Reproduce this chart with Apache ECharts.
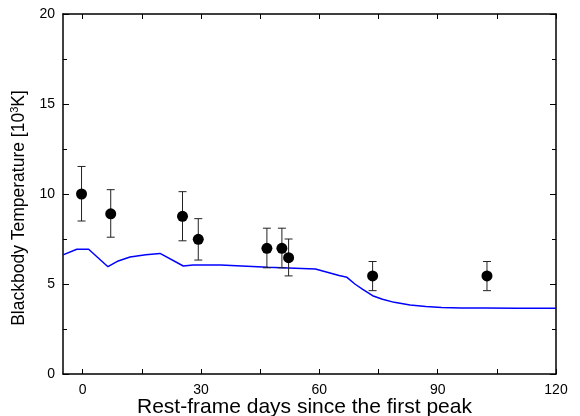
<!DOCTYPE html>
<html>
<head>
<meta charset="utf-8" />
<title>Blackbody temperature</title>
<script src="https://cdn.jsdelivr.net/npm/echarts@6/dist/echarts.min.js"></script>
<style>
  html, body { margin: 0; padding: 0; background: #fff; }
  #main { width: 580px; height: 416px; }
</style>
</head>
<body>
<div id="main"></div>
<script>
// observed points
var obsX = [-0.3, 7.1, 25.3, 29.3, 46.7, 50.5, 52.2, 73.5, 102.5];
var obsY = [10.0, 8.9, 8.76, 7.48, 6.98, 6.98, 6.46, 5.45, 5.45];
var obsLow = [8.5, 7.6, 7.4, 6.33, 5.9, 5.9, 5.45, 4.63, 4.63];
var obsHigh = [11.53, 10.24, 10.13, 8.63, 8.1, 8.1, 7.5, 6.25, 6.25];

// model curve
var modelX = [-5, -1.5, 1.5, 6.4, 9, 12, 16, 19.6, 25.5, 28, 35, 47, 59, 62, 65, 67, 69, 71, 73.5, 76, 79, 83, 87, 91, 96, 102, 110, 120];
var modelY = [6.62, 6.93, 6.93, 5.96, 6.28, 6.5, 6.63, 6.7, 6.0, 6.06, 6.06, 5.93, 5.83, 5.65, 5.47, 5.37, 5.0, 4.7, 4.35, 4.15, 3.98, 3.83, 3.75, 3.7, 3.67, 3.66, 3.65, 3.65];

var xTicks = [0, 15, 30, 45, 60, 75, 90, 105, 120];
var xLabels = [0, 30, 60, 90, 120];

var chart = echarts.init(document.getElementById('main'));

var pts = [], bars = [], line = [];
for (var i = 0; i < obsX.length; i++) {
  pts.push([obsX[i], obsY[i]]);
  bars.push([obsX[i], obsLow[i], obsHigh[i]]);
}
for (var j = 0; j < modelX.length; j++) line.push([modelX[j], modelY[j]]);

var font = 'Liberation Sans, Arial, sans-serif';
var axLine = { show: true, onZero: false, lineStyle: { color: '#000', width: 1.5 } };

function xAx(pos, labels) {
  return {
    type: 'value', position: pos, min: -5, max: 120,
    axisLine: axLine,
    axisTick: { show: true, inside: true, length: 5, customValues: xTicks, lineStyle: { color: '#000' } },
    axisLabel: labels ? { show: true, customValues: xLabels, color: '#000', fontSize: 14, fontFamily: font, margin: 9 } : { show: false },
    splitLine: { show: false },
    name: labels ? 'Rest-frame days since the first peak' : '',
    nameLocation: 'middle', nameGap: 23, nameMoveOverlap: false,
    nameTextStyle: { color: '#000', fontSize: 21, fontFamily: font, padding: [0, 10, 0, 0] }
  };
}
function yAx(pos, labels) {
  return {
    type: 'value', position: pos, min: 0, max: 20, interval: 5,
    axisLine: axLine,
    axisTick: { show: true, inside: true, length: 6, lineStyle: { color: '#000' } },
    minorTick: { show: true, splitNumber: 2, length: 4, lineStyle: { color: '#000' } },
    axisLabel: labels ? { show: true, color: '#000', fontSize: 14, fontFamily: font, margin: 8 } : { show: false },
    splitLine: { show: false },
    name: labels ? 'Blackbody Temperature [10{sup|3}K]' : '',
    nameLocation: 'middle', nameGap: 33,
    nameTextStyle: {
      color: '#000', fontSize: 17.5, fontFamily: font, padding: [0, 28, 0, 0],
      rich: { sup: { fontSize: 11, verticalAlign: 'top', padding: [0, 0, 9, 0], fontFamily: font, color: '#000' } }
    }
  };
}

chart.setOption({
  animation: false,
  grid: { left: 63, right: 24, top: 14, bottom: 42, containLabel: false, outerBoundsMode: 'none' },
  xAxis: [xAx('bottom', true), xAx('top', false)],
  yAxis: [yAx('left', true), yAx('right', false)],
  series: [
    {
      type: 'line', data: line, showSymbol: false, smooth: false,
      lineStyle: { color: '#0000ff', width: 1.5 }, z: 2
    },
    {
      type: 'custom', data: bars, z: 3,
      renderItem: function (params, api) {
        var x = api.value(0);
        var lo = api.coord([x, api.value(1)]);
        var hi = api.coord([x, api.value(2)]);
        var w = 4;
        var st = { stroke: '#222', lineWidth: 1 };
        return {
          type: 'group',
          children: [
            { type: 'line', shape: { x1: lo[0], y1: lo[1], x2: hi[0], y2: hi[1] }, style: st },
            { type: 'line', shape: { x1: lo[0] - w, y1: lo[1], x2: lo[0] + w, y2: lo[1] }, style: st },
            { type: 'line', shape: { x1: hi[0] - w, y1: hi[1], x2: hi[0] + w, y2: hi[1] }, style: st }
          ]
        };
      }
    },
    {
      type: 'scatter', data: pts, symbol: 'circle', symbolSize: 11,
      itemStyle: { color: '#000', opacity: 1 }, z: 4
    }
  ]
});
</script>
</body>
</html>
